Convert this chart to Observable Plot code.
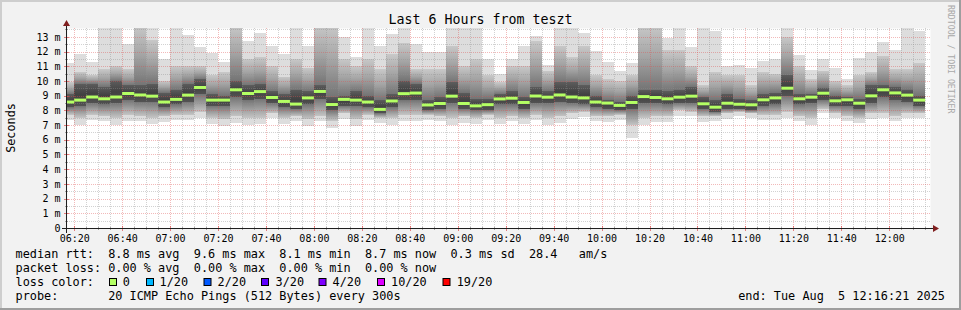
<!DOCTYPE html>
<html><head><meta charset="utf-8">
<script src="https://cdn.jsdelivr.net/npm/d3@7"></script>
<script src="https://cdn.jsdelivr.net/npm/@observablehq/plot@0.6"></script>
<style>
html,body{margin:0;padding:0;background:#f2f2f2;}
#wrap{position:relative;width:961px;height:310px;background:#f2f2f2;overflow:hidden;}
#chart{position:absolute;left:0;top:0;}
#over{position:absolute;left:0;top:0;}
#over text{font-family:"DejaVu Sans Mono",monospace;white-space:pre;}
</style></head><body>
<div id="wrap"><div id="chart"></div><svg id="over" width="961" height="310" xmlns="http://www.w3.org/2000/svg"></svg></div>
<script>
// ---------------- data ----------------
const title = "Last 6 Hours from teszt";
const yLabel = "Seconds";
const day = "2025-08-05";
const viewStartHM = "06:17";
const viewEndHM = "12:17";
const firstBarHM = "06:15";     // start of first 5-minute step (partially visible)
const stepMinutes = 5;
const yTickValues = [0,1,2,3,4,5,6,7,8,9,10,11,12,13];
const yTickLabels = ["0","1 m","2 m","3 m","4 m","5 m","6 m","7 m","8 m","9 m","10 m","11 m","12 m","13 m"];
const xTickLabels = ["06:20","06:40","07:00","07:20","07:40","08:00","08:20","08:40","09:00","09:20","09:40","10:00","10:20","10:40","11:00","11:20","11:40","12:00"];

// median rtt (ms) per 5-minute step
const med = [8.6,8.73,8.94,8.82,8.94,9.18,9.08,9.0,8.6,8.78, 9.07,9.59,8.73,8.73,9.43,9.18,9.31,8.91,8.64,8.46,
  8.88,9.32,8.43,8.78,8.73,8.6,8.1,8.67,9.17,9.21, 8.4,8.5,9.0,8.5,8.34,8.42,8.81,8.86,8.57,9.01,
  8.93,9.08,8.94,8.88,8.6,8.53,8.37,8.57,8.97,8.91, 8.82,8.93,9.0,8.48,8.25,8.52,8.45,8.41,8.75,8.88,
  9.54,8.82,8.93,9.2,8.68,8.75,8.52,9.02,9.43,9.22, 9.07,8.73];
// slowest ping (top of lightest smoke)
const hi = [11.2,11.8,11.3,13.8,13.8,12.5,13.8,13.8,11.5,13.8, 13.15,12.3,11.9,11.3,13.8,12.7,13.25,12.4,11.8,13.8,
  12.35,13.8,13.8,13.0,11.6,13.8,12.4,13.2,13.8,12.5, 11.95,11.95,13.8,13.8,13.8,11.5,10.5,11.5,12.35,13.08,
  11.08,13.8,13.8,13.26,12.06,11.27,10.7,11.25,13.8,13.8, 12.9,13.8,12.3,13.8,13.42,11.0,11.1,10.88,11.33,11.49,
  13.8,11.79,10.77,11.49,10.88,10.16,11.56,11.95,12.63,12.13, 13.8,13.38];
// upper edge of the medium-grey smoke
const up = [9.9,10.6,10.4,10.8,11.0,10.8,13.8,12.8,10.0,11.0, 11.0,11.0,10.4,10.6,13.8,11.5,11.6,11.0,10.3,11.5,
  10.9,13.8,13.8,11.5,11.0,11.5,10.8,11.8,12.6,10.8, 10.8,10.8,12.4,11.0,11.5,10.4,9.9,11.0,11.0,12.7,
  10.7,12.4,11.6,12.4,10.4,10.1,10.0,10.4,13.8,13.8, 12.1,12.1,11.0,9.7,10.6,10.4,10.4,9.7,10.6,10.5,
  13.0,11.0,10.1,10.7,10.0,9.7,10.4,10.6,11.7,10.8, 10.8,11.2];
// upper edge of the dark core
const coreHi = [9.1,9.8,9.8,9.6,10.0,9.7,9.7,9.8,9.2,9.4, 9.8,10.1,9.1,9.0,10.0,9.7,9.8,9.3,9.1,9.4,
  9.3,9.7,8.9,9.0,9.3,9.0,8.7,9.1,10.0,9.8, 8.7,8.9,9.9,9.2,8.8,8.8,9.1,9.3,8.9,9.6,
  9.3,9.9,9.9,9.7,9.0,8.7,8.6,9.0,9.4,9.4, 9.3,9.4,9.6,8.9,8.7,9.1,8.8,8.7,9.1,9.2,
  10.4,9.1,9.1,9.5,9.0,8.9,8.8,9.7,9.7,9.6, 9.4,9.0];
// lower edge of the dark core
const coreLo = [8.2,8.3,8.5,8.4,8.5,8.7,8.6,8.6,8.2,8.4, 8.6,9.1,8.3,8.3,8.9,8.7,8.8,8.5,8.2,8.1,
  8.4,8.8,8.0,8.3,8.3,8.2,7.8,8.2,8.7,8.7, 8.0,8.1,8.5,8.1,8.0,8.0,8.4,8.4,8.1,8.5,
  8.5,8.6,8.5,8.4,8.2,8.1,8.0,8.1,8.5,8.5, 8.4,8.5,8.5,8.1,7.9,8.1,8.1,8.0,8.3,8.4,
  9.0,8.4,8.5,8.7,8.3,8.3,8.1,8.5,8.9,8.7, 8.6,8.3];
// lower edge of the medium-grey smoke
const down = [7.7,7.5,7.7,7.6,7.5,7.7,7.6,7.5,7.6,7.7, 7.7,7.9,7.5,7.4,7.6,7.5,7.5,7.8,7.5,7.6,
  7.4,7.6,7.3,7.8,7.4,7.7,7.5,7.5,7.7,7.7, 7.7,7.6,7.5,7.6,7.5,7.7,7.5,7.6,7.5,7.7,
  7.5,7.6,7.8,7.9,7.6,7.6,7.7,7.0,7.5,7.6, 7.6,8.0,7.9,7.6,7.6,7.8,7.9,7.8,7.7,7.7,
  7.9,7.6,7.5,8.1,7.8,7.6,7.5,7.8,7.8,7.6, 7.8,7.8];
// fastest ping (bottom of lightest smoke)
const lo = [7.35,7.03,7.37,7.25,7.03,7.3,7.25,7.1,7.18,7.32, 7.37,7.46,7.1,6.91,7.14,7.03,7.1,7.48,7.1,7.25,
  6.93,7.25,6.8,7.41,6.91,7.37,7.14,7.03,7.3,7.3, 7.37,7.25,7.03,7.14,7.1,7.37,7.1,7.25,7.1,7.37,
  7.03,7.14,7.41,7.55,7.25,7.18,7.37,6.12,7.03,7.18, 7.18,7.64,7.6,7.18,7.3,7.41,7.6,7.48,7.37,7.37,
  7.48,7.25,7.03,7.82,7.48,7.25,7.14,7.41,7.48,7.25, 7.48,7.48];

const legendLines = [
  "median rtt:  8.8 ms avg  9.6 ms max  8.1 ms min  8.7 ms now  0.3 ms sd  28.4   am/s",
  "packet loss: 0.00 % avg  0.00 % max  0.00 % min  0.00 % now",
  "loss color:",
  "probe:       20 ICMP Echo Pings (512 Bytes) every 300s"
];
const lossLabels = ["0","1/20","2/20","3/20","4/20","10/20","19/20"];
const lossColors = ["#b4ff64","#00b8ff","#0059ff","#5e00ff","#7e00ff","#dd00ff","#ff0000"];
const endText = "end: Tue Aug  5 12:16:21 2025";
const sideText = "RRDTOOL / TOBI OETIKER";

// ---------------- build ----------------
const toDate = hm => new Date(`${day}T${hm}:00Z`);
const stepMs = stepMinutes * 60000;
const firstBar = toDate(firstBarHM);
const bars = med.map((m, i) => ({
  x1: new Date(+firstBar + i * stepMs), x2: new Date(+firstBar + (i + 1) * stepMs),
  lo: lo[i], down: down[i], coreLo: coreLo[i], med: m, coreHi: coreHi[i], up: up[i], hi: hi[i]
}));
const viewStart = toDate(viewStartHM), viewEnd = toDate(viewEndHM);
const majorTimes = xTickLabels.map(toDate);
const minorTimes = d3.utcMinute.every(stepMinutes).range(viewStart, viewEnd).filter(t => t.getUTCMinutes() % 20 !== 0);
const minorY = d3.range(0.5, 13.6, 1);

const mono = "DejaVu Sans Mono";
const gridGray = {stroke: "#8f8f8f", strokeOpacity: 0.4, strokeDasharray: "1,1", shapeRendering: "crispEdges"};
const gridRed = {stroke: "#de4f4f", strokeOpacity: 0.4, strokeDasharray: "1,1", shapeRendering: "crispEdges"};
const rectBase = {x1: "x1", x2: "x2", inset: 0, clip: true, shapeRendering: "crispEdges"};

const plot = Plot.plot({
  width: 961, height: 250,
  marginLeft: 67, marginRight: 31, marginTop: 28, marginBottom: 22,
  x: {type: "utc", domain: [viewStart, viewEnd], axis: null},
  y: {domain: [0, 13.6], axis: null},
  style: {background: "transparent", fontFamily: mono, fontSize: "10px", color: "black", overflow: "visible"},
  marks: [
    Plot.frame({fill: "white", stroke: "none"}),
    Plot.rect(bars, {...rectBase, y1: "lo", y2: "hi", fill: "#dddddd"}),
    Plot.rect(bars, {...rectBase, y1: "coreHi", y2: "up", fill: "url(#smokeUp)"}),
    Plot.rect(bars, {...rectBase, y1: "down", y2: "coreLo", fill: "url(#smokeDown)"}),
    Plot.rect(bars, {...rectBase, y1: "coreLo", y2: "coreHi", fill: "url(#smokeCore)"}),
    Plot.ruleY(minorY, {...gridGray}),
    Plot.ruleX(minorTimes, {...gridGray}),
    Plot.ruleY(yTickValues.filter(v => v > 0), {...gridRed}),
    Plot.ruleX(majorTimes, {...gridRed}),
    Plot.ruleY(bars, {x1: "x1", x2: "x2", y: "med", stroke: lossColors[0], strokeWidth: 3, clip: true}),
    Plot.text(yTickValues, {y: d => d, frameAnchor: "left", text: (d, i) => yTickLabels[i], textAnchor: "end", dx: -7, fontFamily: mono, fontSize: 10}),
    Plot.text(xTickLabels, {x: d => toDate(d), frameAnchor: "bottom", text: d => d, lineAnchor: "top", dy: 6, fontFamily: mono, fontSize: 10})
  ]
});
document.getElementById("chart").appendChild(plot);

// gradients for smoke
const NS = "http://www.w3.org/2000/svg";
function el(tag, attrs, parent) {
  const e = document.createElementNS(NS, tag);
  for (const k in attrs) e.setAttribute(k, attrs[k]);
  if (parent) parent.appendChild(e);
  return e;
}
const defs = el("defs", {});
plot.insertBefore(defs, plot.firstChild);
function grad(id, stops) {
  const g = el("linearGradient", {id, x1: 0, y1: 0, x2: 0, y2: 1}, defs);
  stops.forEach(([o, c]) => el("stop", {offset: o, "stop-color": c}, g));
}
grad("smokeUp", [[0, "#c8c8c8"], [0.5, "#a4a4a4"], [1, "#747474"]]);
grad("smokeDown", [[0, "#747474"], [0.5, "#9c9c9c"], [1, "#c4c4c4"]]);
grad("smokeCore", [[0, "#5c5c5c"], [0.5, "#414141"], [1, "#525252"]]);

// ---------------- overlay chrome ----------------
const over = document.getElementById("over");
const sx = plot.scale("x"), sy = plot.scale("y");
const X0 = sx.apply(viewStart), X1 = sx.apply(viewEnd);
const Y0 = sy.apply(0), Ytop = sy.apply(13.6);

// frame shading
el("rect", {x: 0, y: 0, width: 961, height: 2, fill: "#cecece"}, over);
el("rect", {x: 0, y: 0, width: 2, height: 310, fill: "#cecece"}, over);
el("rect", {x: 0, y: 308, width: 961, height: 2, fill: "#9e9e9e"}, over);
el("rect", {x: 959, y: 0, width: 2, height: 310, fill: "#9e9e9e"}, over);

// axis ticks
majorTimes.forEach(t => { const x = Math.round(sx.apply(t)) + 0.5;
  el("line", {x1: x, x2: x, y1: Y0 - 2, y2: Y0 + 3, stroke: "#de4f4f", "stroke-opacity": 0.7}, over); });
minorTimes.forEach(t => { const x = Math.round(sx.apply(t)) + 0.5;
  el("line", {x1: x, x2: x, y1: Y0 - 1, y2: Y0 + 2, stroke: "#8f8f8f", "stroke-opacity": 0.8}, over); });
yTickValues.forEach(v => { const y = Math.round(sy.apply(v)) + 0.5;
  el("line", {x1: X0 - 3, x2: X0 + 2, y1: y, y2: y, stroke: "#de4f4f", "stroke-opacity": 0.7}, over); });
minorY.forEach(v => { const y = Math.round(sy.apply(v)) + 0.5;
  el("line", {x1: X0 - 2, x2: X0 + 1, y1: y, y2: y, stroke: "#8f8f8f", "stroke-opacity": 0.8}, over); });

// axes + arrows
const ya = Math.round(Y0) + 0.5, xa = Math.round(X0) - 0.5;
el("line", {x1: X0 - 5, x2: X1 + 4, y1: ya, y2: ya, stroke: "#1f1f1f"}, over);
el("line", {x1: xa, x2: xa, y1: Y0 + 5, y2: Ytop - 4, stroke: "#1f1f1f"}, over);
el("path", {d: `M${X1 + 3},${ya - 3.5}L${X1 + 9},${ya}L${X1 + 3},${ya + 3.5}Z`, fill: "#801f1f"}, over);
el("path", {d: `M${xa - 3.5},${Ytop - 2}L${xa},${Ytop - 8}L${xa + 3.5},${Ytop - 2}Z`, fill: "#801f1f"}, over);

function txt(str, attrs) { const t = el("text", attrs, over); t.setAttribute("xml:space", "preserve"); t.textContent = str; return t; }
txt(title, {x: 480.5, y: 24, "text-anchor": "middle", "font-size": "13.3px", fill: "#000"});
txt(yLabel, {transform: `translate(14.5,${(Y0 + Ytop) / 2}) rotate(-90)`, "text-anchor": "middle", "font-size": "11.8px", fill: "#000"});
txt(sideText, {transform: "translate(948,5) rotate(90)", "text-anchor": "start", "font-size": "8.2px", fill: "#a8a8a8"});
const baselines = [257.5, 271.5, 285.5, 299.5];
legendLines.forEach((s, i) => txt(s, {x: 15.5, y: baselines[i], "font-size": "11.85px", fill: "#000"}));
const boxX = [109, 146, 203.5, 261, 318.5, 377, 442.5];
const labX = [122.7, 159.5, 217.5, 275.5, 332.5, 391, 456.7];
lossLabels.forEach((s, i) => {
  el("rect", {x: boxX[i] + 0.5, y: 278.5, width: 7, height: 7, fill: lossColors[i], stroke: "#000", "stroke-width": 1}, over);
  txt(s, {x: labX[i], y: baselines[2], "font-size": "11.85px", fill: "#000"});
});
txt(endText, {x: 945, y: baselines[3], "text-anchor": "end", "font-size": "11.85px", fill: "#000"});
</script></body></html>
